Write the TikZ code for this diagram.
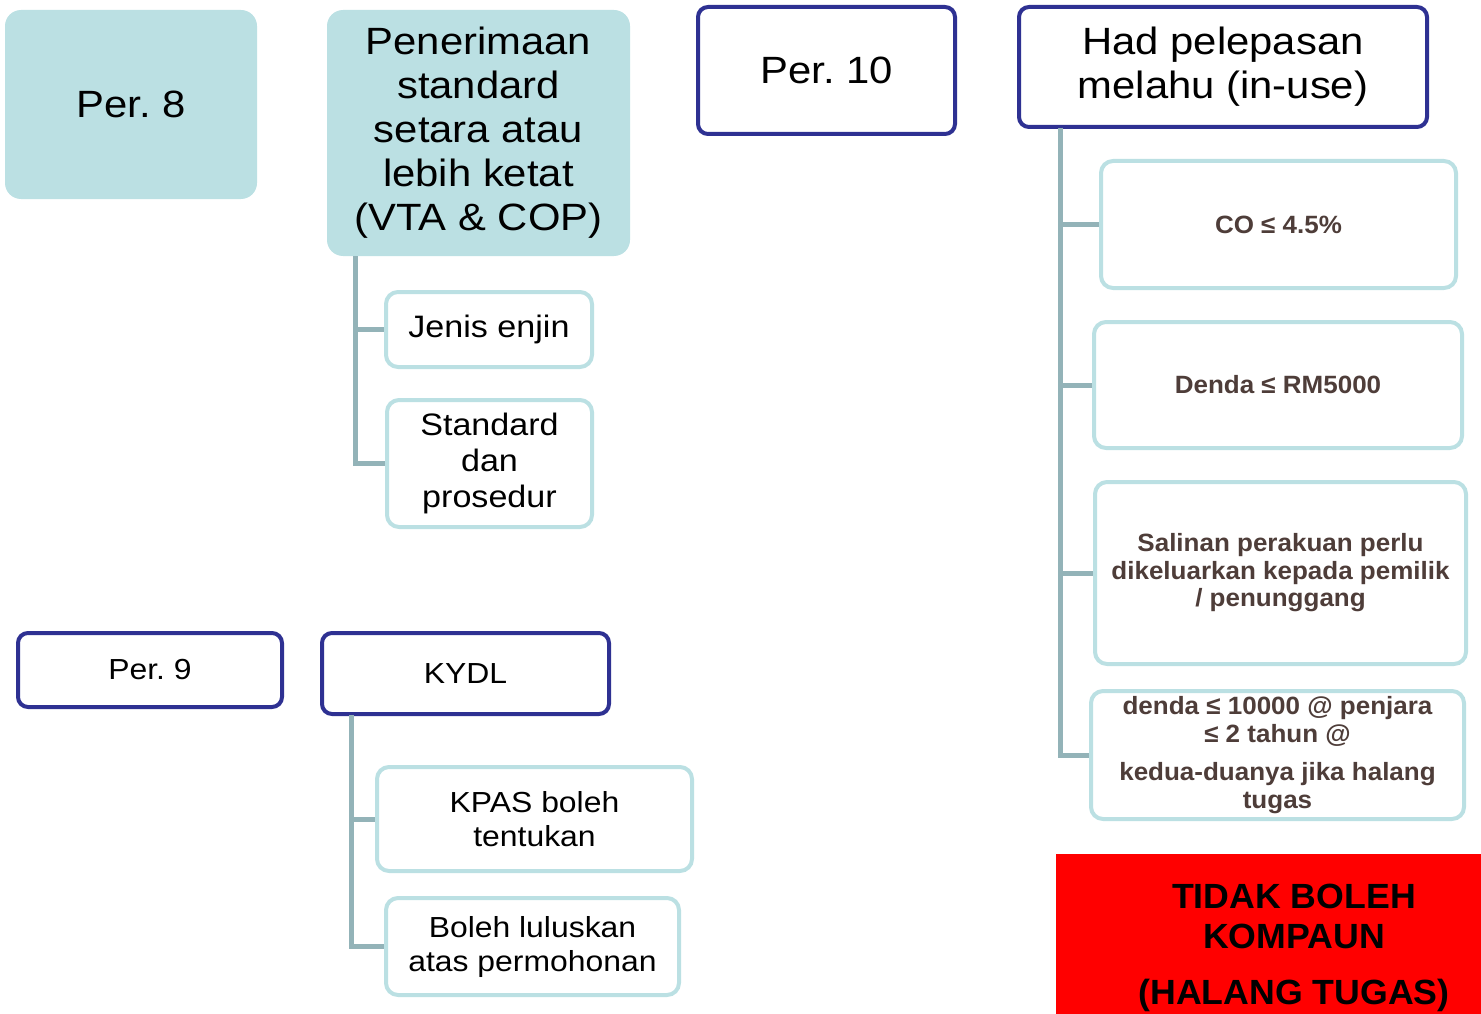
\documentclass[tikz,border=0pt]{standalone}
\usepackage{fontspec}
\setmainfont{Liberation Sans}[FakeStretch=1.1]
\newfontfamily\boldfam{Liberation Sans}[FakeStretch=1.04]
\newfontfamily\redfam{Liberation Sans}[FakeStretch=1.02]
\definecolor{tealfill}{HTML}{BBE0E3}
\definecolor{navy}{HTML}{2E3192}
\definecolor{connc}{HTML}{93B3B8}
\definecolor{txtbrown}{HTML}{4E3D39}
\frenchspacing
\begin{document}
\begin{tikzpicture}[x=1pt,y=-1pt,
  fillbox/.style={fill=tealfill, rounded corners=16pt, inner sep=0pt, align=center},
  navybox/.style={draw=navy, line width=4pt, fill=white, rounded corners=10pt, inner sep=0pt, align=center},
  leafbox/.style={draw=tealfill, line width=4pt, fill=white, rounded corners=12pt, inner sep=0pt, align=center},
  bigtxt/.style={font=\fontsize{38}{44}\selectfont},
  midtxt/.style={font=\fontsize{31}{36}\selectfont},
  smltxt/.style={font=\fontsize{29}{34}\selectfont},
  boldtxt/.style={font=\boldfam\fontsize{25}{27.5}\selectfont\bfseries, text=txtbrown},
  link/.style={draw=connc, line width=5pt}]
\useasboundingbox (0,0) rectangle (1481,1014);

% top left
\node[fillbox, bigtxt, minimum width=252pt, minimum height=189pt] (p8) at (131,104.5) {Per. 8};
\node[fillbox, bigtxt, minimum width=303pt, minimum height=246pt] (pen) at (478.5,133) {Penerimaan\\standard\\setara atau\\lebih ketat\\(VTA \& COP)};
\node[leafbox, midtxt, minimum width=206pt, minimum height=75pt] (jenis) at (489,329.5) {Jenis enjin};
\node[leafbox, midtxt, minimum width=205pt, minimum height=127pt] (std) at (489.5,463.5) {Standard\\dan\\prosedur};

% top middle / right
\node[navybox, bigtxt, minimum width=257pt, minimum height=127pt] (p10) at (826.5,70.5) {Per. 10};
\node[navybox, bigtxt, minimum width=408pt, minimum height=120pt] (had) at (1223,67) {Had pelepasan\\melahu (in-use)};

\node[leafbox, boldtxt, minimum width=355pt, minimum height=127pt] (co) at (1278.5,224.5) {CO ≤ 4.5\%};
\node[leafbox, boldtxt, minimum width=368pt, minimum height=126pt] (denda) at (1278,385) {Denda ≤ RM5000};
\node[leafbox, boldtxt, minimum width=371pt, minimum height=182pt] (salin) at (1280.5,573) {Salinan perakuan perlu\\dikeluarkan kepada pemilik\\/ penunggang};
\node[leafbox, boldtxt, minimum width=373pt, minimum height=128pt] (denda2) at (1277.5,755) {denda ≤ 10000 @ penjara\\≤ 2 tahun @\\[11pt]kedua-duanya jika halang\\tugas};

% bottom left
\node[navybox, smltxt, minimum width=264pt, minimum height=74pt] (p9) at (150,670) {Per. 9};
\node[navybox, smltxt, minimum width=287pt, minimum height=81pt] (kydl) at (465.5,673.5) {KYDL};
\node[leafbox, smltxt, minimum width=315pt, minimum height=104pt] (kpas) at (534.5,819) {KPAS boleh\\tentukan};
\node[leafbox, smltxt, minimum width=293pt, minimum height=97pt] (lulus) at (532.5,946.5) {Boleh luluskan\\atas permohonan};

% red box
\node[fill=red, inner sep=0pt, minimum width=476pt, minimum height=188pt, align=center,
      font=\redfam\fontsize{35}{40}\selectfont\bfseries] (red) at (1294,948)
  {TIDAK BOLEH\\KOMPAUN\\[16pt](HALANG TUGAS)};

% connectors
\coordinate (penroot) at (355,256);
\coordinate (kroot) at (351,715);
\coordinate (hroot) at (1060,128);
\draw[link] (penroot) |- (jenis.west);
\draw[link] (penroot) |- (std.west);
\draw[link] (kroot) |- (kpas.west);
\draw[link] (kroot) |- (lulus.west);
\draw[link] (hroot) |- (co.west);
\draw[link] (hroot) |- (denda.west);
\draw[link] (hroot) |- (salin.west);
\draw[link] (hroot) |- (denda2.west);
\end{tikzpicture}
\end{document}
